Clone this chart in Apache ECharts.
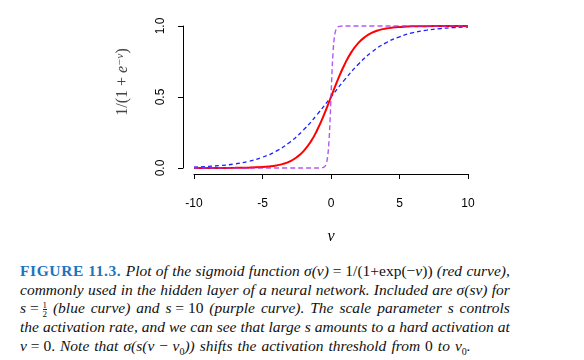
<!DOCTYPE html>
<html>
<head>
<meta charset="utf-8">
<script src="https://cdn.jsdelivr.net/npm/echarts@6/dist/echarts.min.js"></script>
<style>
  html, body { margin: 0; padding: 0; background: #fff; }
  #chart { position: absolute; left: 0; top: 0; width: 584px; height: 250px; }
  #caption { position: absolute; left: 20px; top: 262px; width: 490px;
    font-family: "Liberation Serif", "DejaVu Serif", serif; font-size: 15.5px; line-height: 18.7px; color: #111; font-style: italic; }
  #caption .ln { white-space: nowrap; height: 18.7px; display: flex; justify-content: space-between; align-items: baseline; }
  #caption .last { justify-content: flex-start; gap: 5px; }
  #caption .fig { color: #1a74bf; font-weight: bold; font-style: normal; letter-spacing: 0.6px; }
  .up { font-style: normal; }
  .frac { display: inline-block; vertical-align: middle; font-size: 9px; line-height: 8px; text-align: center; font-style: normal; }
  .frac span { display: block; }
  .frac .num { border-bottom: 1px solid #222; }
</style>
</head>
<body>
<div id="chart"></div>
<div id="caption">
  <div class="ln"><span class="fig">FIGURE</span><span class="fig">11.3.</span><span>Plot</span><span>of</span><span>the</span><span>sigmoid</span><span>function</span><span>σ(v) <span class="up">= 1/(1+exp(−</span>v<span class="up">))</span></span><span>(red</span><span>curve),</span></div>
  <div class="ln"><span>commonly</span><span>used</span><span>in</span><span>the</span><span>hidden</span><span>layer</span><span>of</span><span>a</span><span>neural</span><span>network.</span><span>Included</span><span>are</span><span>σ(sv)</span><span>for</span></div>
  <div class="ln"><span>s <span class="up">=</span> <span class="frac"><span class="num">1</span><span>2</span></span></span><span>(blue</span><span>curve)</span><span>and</span><span>s <span class="up">= 10</span></span><span>(purple</span><span>curve).</span><span>The</span><span>scale</span><span>parameter</span><span>s</span><span>controls</span></div>
  <div class="ln"><span>the</span><span>activation</span><span>rate,</span><span>and</span><span>we</span><span>can</span><span>see</span><span>that</span><span>large</span><span>s</span><span>amounts</span><span>to</span><span>a</span><span>hard</span><span>activation</span><span>at</span></div>
  <div class="ln last"><span>v <span class="up">= 0.</span></span><span>Note</span><span>that</span><span>σ(s(v − v<sub style="font-size:10px;font-style:normal">0</sub>))</span><span>shifts</span><span>the</span><span>activation</span><span>threshold</span><span>from</span><span class="up">0</span><span>to</span><span>v<sub style="font-size:10px;font-style:normal">0</sub>.</span></div>
</div>
<script>
// v values and curve heights
const vRed = [-10, -9, -8, -7, -6, -5, -4.5, -4, -3.5, -3, -2.5, -2, -1.5, -1, -0.5, 0, 0.5, 1, 1.5, 2, 2.5, 3, 3.5, 4, 4.5, 5, 6, 7, 8, 9, 10];
const redVals = [0.0000, 0.0001, 0.0003, 0.0009, 0.0025, 0.0067, 0.011, 0.018, 0.029, 0.047, 0.076, 0.119, 0.182, 0.269, 0.378, 0.5, 0.622, 0.731, 0.818, 0.881, 0.924, 0.953, 0.971, 0.982, 0.989, 0.993, 0.9975, 0.9991, 0.9997, 0.9999, 1.0];

const vBlue = [-10, -9, -8, -7, -6, -5, -4, -3, -2, -1, 0, 1, 2, 3, 4, 5, 6, 7, 8, 9, 10];
const blueVals = [0.0067, 0.011, 0.018, 0.029, 0.047, 0.076, 0.119, 0.182, 0.269, 0.378, 0.5, 0.622, 0.731, 0.818, 0.881, 0.924, 0.953, 0.971, 0.982, 0.989, 0.993];

const vPurple = [-10, -1, -0.6, -0.5, -0.4, -0.3, -0.2, -0.1, 0, 0.1, 0.2, 0.3, 0.4, 0.5, 0.6, 1, 10];
const purpleVals = [0.0, 0.0, 0.0025, 0.0067, 0.018, 0.047, 0.119, 0.269, 0.5, 0.731, 0.881, 0.953, 0.982, 0.993, 0.9975, 1.0, 1.0];

const xTicks = [-10, -5, 0, 5, 10];
const yTicks = [0, 0.5, 1];

const pairs = (xs, ys) => xs.map((x, i) => [x, ys[i]]);

const chart = echarts.init(document.getElementById('chart'));
chart.setOption({
  animation: false,
  grid: { left: 194, right: 116, top: 26, height: 142 },
  graphic: [{
    type: 'text', x: 123, y: 82, rotation: Math.PI / 2,
    style: {
      text: '1/(1 + {i|e}{sup|−v})',
      fontFamily: 'Liberation Serif', fontSize: 16, fill: '#444',
      align: 'center', verticalAlign: 'middle',
      rich: {
        i: { fontFamily: 'Liberation Serif', fontStyle: 'italic', fontSize: 16, fill: '#444' },
        sup: { fontFamily: 'Liberation Serif', fontStyle: 'italic', fontSize: 11, fill: '#444', verticalAlign: 'top', lineHeight: 12, padding: [0, 0, 8, 0] }
      }
    }
  }],
  xAxis: {
    type: 'value', min: -10, max: 10, interval: 5, offset: 6,
    splitLine: { show: false },
    axisLine: { show: true, onZero: false, lineStyle: { color: '#000', width: 1 } },
    axisTick: { show: true, length: 5, lineStyle: { color: '#000' } },
    axisLabel: { margin: 24, fontFamily: 'Liberation Sans', fontSize: 12, color: '#000',
      formatter: v => xTicks.includes(v) ? String(v) : '' },
    name: 'v', nameLocation: 'middle', nameGap: 55,
    nameTextStyle: { fontFamily: 'Liberation Serif', fontStyle: 'italic', fontSize: 16, color: '#000' }
  },
  yAxis: {
    type: 'value', min: 0, max: 1, interval: 0.5, offset: 11,
    splitLine: { show: false },
    axisLine: { show: true, onZero: false, lineStyle: { color: '#000', width: 1 } },
    axisTick: { show: true, length: 5, lineStyle: { color: '#000' } },
    axisLabel: { rotate: 90, margin: 16, fontFamily: 'Liberation Sans', fontSize: 12, color: '#000',
      formatter: v => yTicks.includes(v) ? v.toFixed(1) : '' }
  },
  series: [
    { type: 'line', data: pairs(vBlue, blueVals), smooth: true, showSymbol: false, clip: false,
      lineStyle: { color: '#1f1fff', width: 1.3, type: [4, 3] }, z: 2 },
    { type: 'line', data: pairs(vRed, redVals), smooth: true, showSymbol: false, clip: false,
      lineStyle: { color: '#ff0000', width: 2 }, z: 3 },
    { type: 'line', data: pairs(vPurple, purpleVals), smooth: 0.3, showSymbol: false, clip: false,
      lineStyle: { color: '#a030f0', width: 1.4, type: [5, 3], opacity: 0.8 }, z: 4 }
  ]
});
</script>
</body>
</html>
